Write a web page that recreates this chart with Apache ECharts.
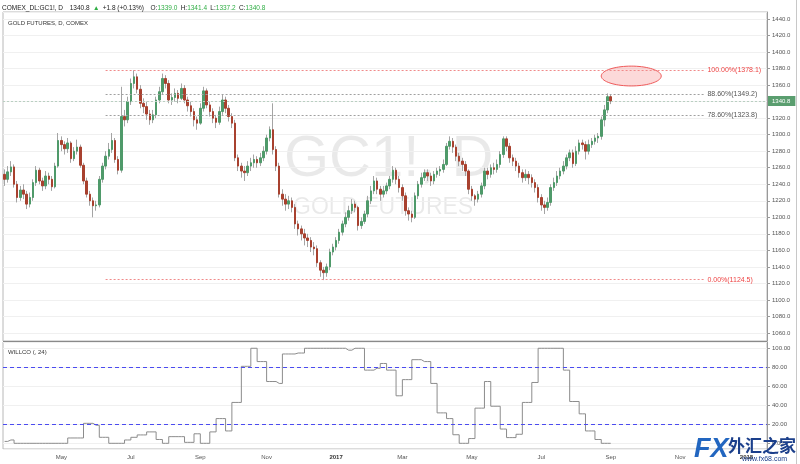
<!DOCTYPE html>
<html>
<head>
<meta charset="utf-8">
<title>GC1! Gold Futures</title>
<script src="https://cdn.jsdelivr.net/npm/echarts@6/dist/echarts.min.js"></script>
<style>
  html, body { margin: 0; padding: 0; background: #fff; }
  #chart { width: 800px; height: 464px; }
</style>
</head>
<body>
<div id="chart"></div>
<script>
// gold futures, one candle per two sessions: [open, close, low, high]
const candles = [
  [1252, 1246, 1238, 1258], [1246, 1255, 1242, 1262], [1255, 1261, 1250, 1268], [1261, 1240, 1236, 1264], [1240, 1224, 1218, 1244],
  [1224, 1233, 1220, 1238], [1233, 1228, 1222, 1240], [1228, 1216, 1210, 1232], [1216, 1224, 1212, 1230], [1224, 1242, 1220, 1246],
  [1242, 1257, 1238, 1262], [1257, 1244, 1240, 1260], [1244, 1238, 1232, 1248], [1238, 1250, 1234, 1256], [1250, 1246, 1240, 1254],
  [1246, 1237, 1232, 1250], [1237, 1262, 1235, 1266], [1262, 1293, 1260, 1302], [1293, 1288, 1280, 1298], [1288, 1283, 1276, 1292],
  [1283, 1290, 1278, 1296], [1290, 1271, 1266, 1292], [1271, 1280, 1268, 1285], [1280, 1285, 1276, 1294], [1285, 1263, 1260, 1288],
  [1263, 1244, 1240, 1266], [1244, 1228, 1224, 1248], [1228, 1220, 1214, 1232], [1220, 1214, 1200, 1224], [1214, 1215, 1208, 1220],
  [1215, 1246, 1212, 1250], [1246, 1262, 1242, 1266], [1262, 1274, 1258, 1280], [1274, 1282, 1270, 1290], [1282, 1293, 1278, 1302],
  [1293, 1270, 1266, 1296], [1270, 1257, 1252, 1274], [1257, 1322, 1254, 1358], [1322, 1318, 1310, 1330], [1318, 1340, 1314, 1346],
  [1340, 1362, 1336, 1368], [1362, 1370, 1356, 1378], [1370, 1355, 1350, 1374], [1355, 1338, 1332, 1360], [1338, 1334, 1326, 1344],
  [1334, 1325, 1318, 1340], [1325, 1318, 1312, 1330], [1318, 1324, 1314, 1330], [1324, 1342, 1320, 1346], [1342, 1352, 1338, 1358],
  [1352, 1368, 1348, 1374], [1368, 1362, 1356, 1372], [1362, 1342, 1338, 1366], [1342, 1345, 1336, 1350], [1345, 1350, 1340, 1356],
  [1350, 1344, 1338, 1354], [1344, 1356, 1342, 1362], [1356, 1342, 1338, 1360], [1342, 1335, 1328, 1346], [1335, 1328, 1322, 1340],
  [1328, 1318, 1310, 1332], [1318, 1314, 1306, 1322], [1314, 1332, 1312, 1338], [1332, 1353, 1328, 1358], [1353, 1336, 1332, 1356],
  [1336, 1328, 1322, 1340], [1328, 1320, 1314, 1332], [1320, 1315, 1308, 1324], [1315, 1328, 1312, 1334], [1328, 1342, 1324, 1348],
  [1342, 1332, 1326, 1346], [1332, 1322, 1316, 1336], [1322, 1314, 1308, 1326], [1314, 1272, 1268, 1318], [1272, 1262, 1256, 1276],
  [1262, 1256, 1248, 1266], [1256, 1254, 1244, 1262], [1254, 1262, 1250, 1268], [1262, 1266, 1256, 1272], [1266, 1270, 1260, 1276],
  [1270, 1266, 1260, 1274], [1266, 1272, 1262, 1278], [1272, 1280, 1268, 1286], [1280, 1296, 1276, 1300], [1296, 1306, 1292, 1310],
  [1306, 1282, 1276, 1338], [1282, 1262, 1256, 1286], [1262, 1228, 1224, 1266], [1228, 1222, 1214, 1234], [1222, 1216, 1208, 1228],
  [1216, 1220, 1210, 1226], [1220, 1212, 1206, 1224], [1212, 1192, 1186, 1216], [1192, 1186, 1178, 1196], [1186, 1180, 1172, 1190],
  [1180, 1175, 1166, 1186], [1175, 1172, 1164, 1180], [1172, 1164, 1158, 1176], [1164, 1162, 1154, 1170], [1162, 1145, 1140, 1166],
  [1145, 1136, 1128, 1148], [1136, 1133, 1124, 1140], [1133, 1140, 1128, 1144], [1140, 1158, 1136, 1162], [1158, 1164, 1154, 1168],
  [1164, 1172, 1160, 1176], [1172, 1182, 1168, 1186], [1182, 1192, 1178, 1196], [1192, 1200, 1188, 1206], [1200, 1208, 1196, 1214],
  [1208, 1216, 1204, 1222], [1216, 1212, 1206, 1220], [1212, 1190, 1184, 1214], [1190, 1195, 1186, 1200], [1195, 1204, 1192, 1208],
  [1204, 1220, 1200, 1226], [1220, 1232, 1216, 1238], [1232, 1244, 1228, 1250], [1244, 1234, 1228, 1248], [1234, 1228, 1220, 1238],
  [1228, 1232, 1224, 1238], [1232, 1238, 1228, 1242], [1238, 1246, 1234, 1250], [1246, 1257, 1242, 1262], [1257, 1246, 1240, 1260],
  [1246, 1236, 1230, 1250], [1236, 1226, 1220, 1240], [1226, 1208, 1202, 1230], [1208, 1204, 1196, 1212], [1204, 1200, 1194, 1208],
  [1200, 1226, 1198, 1230], [1226, 1240, 1222, 1244], [1240, 1248, 1236, 1254], [1248, 1254, 1244, 1258], [1254, 1250, 1244, 1258],
  [1250, 1244, 1238, 1254], [1244, 1252, 1240, 1256], [1252, 1256, 1248, 1260], [1256, 1258, 1250, 1262], [1258, 1264, 1254, 1270],
  [1264, 1286, 1262, 1290], [1286, 1292, 1282, 1298], [1292, 1285, 1278, 1296], [1285, 1274, 1268, 1288], [1274, 1268, 1262, 1278],
  [1268, 1264, 1256, 1272], [1264, 1256, 1250, 1268], [1256, 1234, 1228, 1258], [1234, 1226, 1220, 1238], [1226, 1222, 1214, 1228],
  [1222, 1228, 1218, 1232], [1228, 1238, 1224, 1242], [1238, 1256, 1234, 1260], [1256, 1252, 1246, 1260], [1252, 1260, 1248, 1264],
  [1260, 1258, 1252, 1266], [1258, 1264, 1254, 1270], [1264, 1276, 1260, 1280], [1276, 1295, 1272, 1298], [1295, 1286, 1280, 1298],
  [1286, 1272, 1266, 1290], [1272, 1268, 1262, 1276], [1268, 1262, 1256, 1272], [1262, 1254, 1248, 1266], [1254, 1248, 1242, 1258],
  [1248, 1252, 1244, 1258], [1252, 1248, 1240, 1256], [1248, 1242, 1236, 1252], [1242, 1236, 1230, 1246], [1236, 1224, 1218, 1240],
  [1224, 1215, 1208, 1228], [1215, 1212, 1204, 1220], [1212, 1218, 1208, 1224], [1218, 1236, 1214, 1240], [1236, 1242, 1232, 1248],
  [1242, 1250, 1238, 1256], [1250, 1256, 1246, 1260], [1256, 1262, 1252, 1268], [1262, 1272, 1258, 1276], [1272, 1278, 1268, 1282],
  [1278, 1265, 1260, 1282], [1265, 1280, 1262, 1286], [1280, 1290, 1276, 1294], [1290, 1288, 1282, 1294], [1288, 1280, 1270, 1292],
  [1280, 1288, 1276, 1294], [1288, 1292, 1284, 1296], [1292, 1296, 1288, 1300], [1296, 1298, 1290, 1302], [1298, 1318, 1294, 1322],
  [1318, 1330, 1310, 1336], [1330, 1346, 1326, 1350], [1346, 1340.8, 1337, 1349]
];

// WILLCO (, 24)
const willco = [
  2, 3.5, 3.5, 0, 0, 0, 0, 0, 0, 0,
  0, 0, 0, 0, 0, 0, 0, 0, 0, 0,
  5.6, 5.6, 5.6, 5.6, 5.6, 21, 21, 21, 19, 19,
  6.3, 6.3, 6.3, 0, 0, 0, 0, 0, 3.5, 3.5,
  6.3, 6.3, 8.8, 8.8, 8.8, 12, 12, 12, 4, 4,
  0, 0, 7, 7, 7, 7, 7, 1, 1, 1,
  10, 10, 0, 0, 0, 12, 12, 26, 26, 26,
  13, 13, 43, 43, 43, 81, 81, 81, 100, 100,
  86, 86, 86, 65, 65, 65, 63, 63, 94, 94,
  94, 94, 95, 95, 95, 100, 100, 100, 100, 100,
  100, 100, 100, 100, 100, 100, 100, 100, 98, 98,
  100, 100, 100, 100, 77, 77, 77, 79, 79, 84,
  84, 77, 77, 77, 50, 50, 67, 67, 67, 88,
  88, 88, 86, 86, 86, 63, 63, 32, 32, 32,
  26, 26, 9, 9, 0, 0, 0, 5, 5, 37,
  37, 37, 65, 65, 39, 39, 39, 15, 15, 6,
  6, 6, 9.5, 9.5, 43, 43, 43, 64, 64, 100,
  100, 100, 100, 100, 100, 100, 100, 77, 77, 44,
  44, 44, 31, 31, 13, 13, 13, 4, 4, 0,
  0, 0, 0
];

const fibLevels = [1378.1, 1349.2, 1323.8, 1124.5];
const fibLabels = ['100.00%', '88.60%', '78.60%', '0.00%'];
const fibColors = ['#f08a8a', '#a0a0a0', '#a0a0a0', '#f08a8a'];
const fibTextColors = ['#ee4444', '#555', '#555', '#ee4444'];
const fibSpan = [32, 222];           // first / last session index of the fib tool
const lastPrice = 1340.8;
const targetZone = [189, 208, 1359, 1383]; // session from, session to, price low, price high
const willcoBands = [80, 20];
const monthNames = ['Jan', 'Feb', 'Mar', 'Apr', 'May', 'Jun', 'Jul', 'Aug', 'Sep', 'Oct', 'Nov', 'Dec'];
const firstSession = '2016-03-14';
const sessionCount = 242;

const font = 'Liberation Sans, Arial, sans-serif';
const upColor = '#4f9a6a';
const downColor = '#a8412f';
const wickColor = '#a4a4a4';

// one category per two weekdays
const categories = [];
const day = new Date(firstSession + 'T00:00:00Z');
while (categories.length < sessionCount) {
  categories.push(day.toISOString().slice(0, 10));
  let steps = 0;
  while (steps < 2) {
    day.setUTCDate(day.getUTCDate() + 1);
    const w = day.getUTCDay();
    if (w !== 0 && w !== 6) steps++;
  }
}
const monthOf = s => +s.slice(5, 7) - 1;

const bodies = candles.map(c => [c[0], c[1], Math.min(c[0], c[1]), Math.max(c[0], c[1])]);

const fibLines = fibLevels.map((v, i) => {
  const label = {
    show: true, position: 'end', distance: 2,
    formatter: fibLabels[i] + '(' + v.toFixed(1) + ')',
    color: fibTextColors[i], fontSize: 7, fontFamily: font
  };
  const lineStyle = { color: fibColors[i], type: [2, 2], width: 1 };
  return [
    { coord: [fibSpan[0], v], lineStyle, label },
    { coord: [fibSpan[1], v], lineStyle, label }
  ];
});

const chart = echarts.init(document.getElementById('chart'), null, { renderer: 'canvas' });

chart.setOption({
  animation: false,
  backgroundColor: '#fff',
  textStyle: { fontFamily: font },
  grid: [
    { left: 3, right: 33, top: 12, height: 329, show: true, borderColor: '#b8b8b8', borderWidth: 1, outerBoundsMode: 'none' },
    { left: 3, right: 33, top: 342, height: 107, show: true, borderColor: '#b8b8b8', borderWidth: 1, outerBoundsMode: 'none' }
  ],
  xAxis: [
    { type: 'category', gridIndex: 0, data: categories, show: false },
    {
      type: 'category', gridIndex: 1, data: categories,
      axisLine: { show: false }, axisTick: { show: false },
      axisLabel: {
        fontSize: 6, color: '#555', margin: 5, fontFamily: font,
        interval: (idx, val) => idx > 0 && monthOf(val) !== monthOf(categories[idx - 1]) && monthOf(val) % 2 === 0,
        formatter: val => monthOf(val) === 0 ? '{y|' + val.slice(0, 4) + '}' : monthNames[monthOf(val)],
        rich: { y: { fontSize: 6, fontWeight: 'bold', color: '#333', fontFamily: font } }
      },
      splitLine: { show: false }
    }
  ],
  yAxis: [
    {
      type: 'value', gridIndex: 0, position: 'right', scale: true,
      min: 1050.3, max: 1448.5, splitNumber: 20,
      axisLine: { show: true, lineStyle: { color: '#999' } },
      axisTick: { show: true, length: 3, lineStyle: { color: '#999' } },
      axisLabel: { fontSize: 6, color: '#555', margin: 5, showMinLabel: false, showMaxLabel: false, formatter: v => v.toFixed(1) },
      splitLine: { lineStyle: { color: '#f0f0f0' } }
    },
    {
      type: 'value', gridIndex: 1, position: 'right',
      min: -6, max: 106.6, splitNumber: 6,
      axisLine: { show: true, lineStyle: { color: '#999' } },
      axisTick: { show: true, length: 3, lineStyle: { color: '#999' } },
      axisLabel: { fontSize: 6, color: '#555', margin: 5, showMinLabel: false, showMaxLabel: false, formatter: v => v.toFixed(2) },
      splitLine: { lineStyle: { color: '#f0f0f0' } }
    }
  ],
  series: [
    {
      name: 'wick', type: 'candlestick', xAxisIndex: 0, yAxisIndex: 0,
      data: candles, barMaxWidth: 1,
      itemStyle: { color: wickColor, color0: wickColor, borderColor: wickColor, borderColor0: wickColor, borderWidth: 1 }
    },
    {
      name: 'GC1!', type: 'candlestick', xAxisIndex: 0, yAxisIndex: 0,
      data: bodies, barWidth: 2,
      itemStyle: { color: upColor, color0: downColor, borderColor: upColor, borderColor0: downColor, borderWidth: 1 },
      markLine: {
        symbol: 'none', silent: true, animation: false,
        data: fibLines.concat([{
          yAxis: lastPrice,
          lineStyle: { color: '#b9cfc1', type: [2, 2], width: 1 },
          label: {
            show: true, position: 'end', distance: 1, formatter: lastPrice.toFixed(1),
            color: '#fff', backgroundColor: '#5a9e6f', padding: [2, 5, 2, 4], fontSize: 6, fontFamily: font
          }
        }])
      }
    },
    {
      name: 'target', type: 'custom', xAxisIndex: 0, yAxisIndex: 0, clip: false,
      data: [targetZone], encode: { x: [0, 1], y: [2, 3] },
      renderItem: (params, api) => {
        const a = api.coord([api.value(0), api.value(3)]);
        const b = api.coord([api.value(1), api.value(2)]);
        const cx = (a[0] + b[0]) / 2, cy = (a[1] + b[1]) / 2;
        const rx = Math.abs(b[0] - a[0]) / 2, ry = Math.abs(b[1] - a[1]) / 2;
        const pts = [];
        for (let i = 0; i < 72; i++) {
          const t = i / 72 * Math.PI * 2;
          pts.push([cx + rx * Math.cos(t), cy + ry * Math.sin(t)]);
        }
        return {
          type: 'polygon', shape: { points: pts },
          style: { fill: 'rgba(245,120,120,0.28)', stroke: '#ef5a5a', lineWidth: 1 }
        };
      }
    },
    {
      name: 'WILLCO', type: 'line', xAxisIndex: 1, yAxisIndex: 1,
      data: willco, step: 'end', showSymbol: false,
      lineStyle: { color: '#8c8c8c', width: 1 },
      markLine: {
        symbol: 'none', silent: true, animation: false,
        label: { show: false },
        lineStyle: { color: '#4b4bf0', type: [4, 3], width: 1 },
        data: willcoBands.map(v => ({ yAxis: v }))
      }
    }
  ],
  graphic: [
    {
      type: 'text', left: 284, top: 131, z: 0, silent: true,
      style: { text: 'GC1!, D', fontSize: 58, fontFamily: font, fill: 'rgba(0,0,0,0.085)' }
    },
    {
      type: 'text', left: 293, top: 196, z: 0, silent: true,
      style: { text: 'GOLD FUTURES', fontSize: 23, fontFamily: font, fill: 'rgba(0,0,0,0.085)' }
    },
    {
      type: 'text', left: 2, top: 2, z: 50, silent: true,
      style: {
        text: '{d|COMEX_DL:GC1!, D}  {d|1340.8} {g|▲} {d|+1.8 (+0.13%)}  {d|O:}{g|1339.0} {d|H:}{g|1341.4} {d|L:}{g|1337.2} {d|C:}{g|1340.8}',
        rich: {
          d: { fontSize: 6.5, fontFamily: font, fill: '#222' },
          g: { fontSize: 6.5, fontFamily: font, fill: '#2fae44' }
        }
      }
    },
    {
      type: 'text', left: 8, top: 20, z: 50, silent: true,
      style: { text: 'GOLD FUTURES, D, COMEX', fontSize: 6, fontFamily: font, fill: '#333' }
    },
    {
      type: 'text', left: 8, top: 349, z: 50, silent: true,
      style: { text: 'WILLCO (, 24)', fontSize: 6, fontFamily: font, fill: '#333' }
    },
    {
      type: 'line', z: 50, silent: true,
      shape: { x1: 3, y1: 341.5, x2: 767, y2: 341.5 },
      style: { stroke: '#8a8a8a', lineWidth: 1 }
    },
    {
      type: 'line', z: 50, silent: true,
      shape: { x1: 796.5, y1: 0, x2: 796.5, y2: 464 },
      style: { stroke: '#c8c8c8', lineWidth: 1 }
    },
    {
      type: 'text', left: 694, top: 436, z: 100, silent: true,
      style: { text: 'FX', font: 'italic bold 27px Liberation Sans', fill: '#2266c0' }
    },
    {
      type: 'text', left: 728, top: 437, z: 100, silent: true,
      style: { text: '外汇之家', font: 'bold 17px "Noto Sans CJK SC"', fill: '#1b3f8b' }
    },
    {
      type: 'text', left: 742, top: 456, z: 100, silent: true,
      style: { text: 'www.fx68.com', fontSize: 7, fontFamily: font, fill: '#1b3f8b' }
    }
  ]
});
</script>
</body>
</html>
